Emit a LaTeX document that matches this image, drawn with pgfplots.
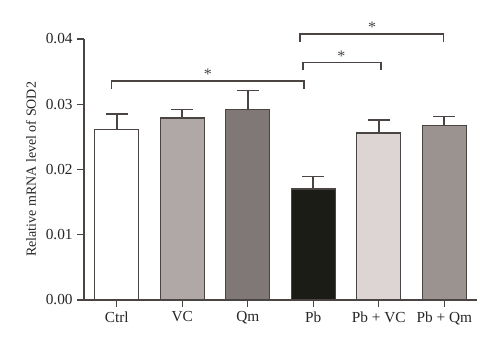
\documentclass[border=0pt]{standalone}
\usepackage{pgfplots}
\pgfplotsset{compat=1.18}
\usepackage{fontspec}
\setmainfont{Liberation Serif}
\definecolor{edge}{HTML}{4A4543}
\definecolor{cVC}{HTML}{B0A8A6}
\definecolor{cQm}{HTML}{807876}
\definecolor{cPb}{HTML}{1C1C16}
\definecolor{cPbVC}{HTML}{DCD5D4}
\definecolor{cPbQm}{HTML}{9A9390}
\begin{document}
\begin{tikzpicture}
\begin{axis}[
  scale only axis,
  width=294.75pt, height=195.75pt,
  xmin=-0.5, xmax=5.5, ymin=0, ymax=0.04,
  axis x line*=bottom, axis y line*=left,
  axis line style={edge, line width=1.3pt, -},
  xtick={0,1,2,3,4,5},
  xticklabels={Ctrl, VC, Qm, Pb, Pb + VC, Pb + Qm},
  ytick={0,0.01,0.02,0.03,0.04},
  yticklabel style={/pgf/number format/.cd, fixed, fixed zerofill, precision=2},
  /pgf/number format/assume math mode=true,
  scaled y ticks=false,
  tick align=outside,
  major tick length=5pt,
  tick style={edge, line width=1.1pt},
  ticklabel style={font=\fontsize{11.5}{13}\selectfont, text=black!85},
  ylabel={Relative mRNA level of SOD2},
  ylabel style={font=\fontsize{10.5}{12}\selectfont, text=black!85},
  every axis y label/.append style={at={(ticklabel cs:0.5)}, yshift=0.5pt},
  clip=false,
  ybar, bar width=0.67, bar shift=0pt,
  every axis plot/.append style={draw=edge, line width=1pt,
    /pgfplots/error bars/y dir=plus, /pgfplots/error bars/y explicit,
    /pgfplots/error bars/error bar style={edge, line width=1.2pt},
    /pgfplots/error bars/error mark options={edge, line width=1.2pt, rotate=90, mark size=8.25pt}},
]
\addplot[fill=white] coordinates {(0,0.0261) +- (0,0.0024)};
\addplot[fill=cVC] coordinates {(1,0.0279) +- (0,0.0013)};
\addplot[fill=cQm] coordinates {(2,0.0292) +- (0,0.0029)};
\addplot[fill=cPb] coordinates {(3,0.0170) +- (0,0.0019)};
\addplot[fill=cPbVC] coordinates {(4,0.0256) +- (0,0.0020)};
\addplot[fill=cPbQm] coordinates {(5,0.0267) +- (0,0.0014)};
% significance brackets
\draw[edge, line width=1.2pt] (axis cs:-0.08,0.0323) |- (axis cs:2.86,0.0336) -- (axis cs:2.86,0.0323);
\node[font=\fontsize{12}{13}\selectfont, text=edge] at (axis cs:1.39,0.0346) {*};
\draw[edge, line width=1.2pt] (axis cs:2.84,0.0352) |- (axis cs:4.03,0.0364) -- (axis cs:4.03,0.0352);
\node[font=\fontsize{12}{13}\selectfont, text=edge] at (axis cs:3.43,0.0374) {*};
\draw[edge, line width=1.2pt] (axis cs:2.80,0.0396) |- (axis cs:4.99,0.0408) -- (axis cs:4.99,0.0396);
\node[font=\fontsize{12}{13}\selectfont, text=edge] at (axis cs:3.9,0.0418) {*};
\coordinate (bl) at (rel axis cs:0,0);
\coordinate (tr) at (rel axis cs:1,1);
\end{axis}
\path ([shift={(-63pt,-39pt)}]bl) rectangle ([shift={(17.25pt,29.25pt)}]tr);
\end{tikzpicture}
\end{document}
